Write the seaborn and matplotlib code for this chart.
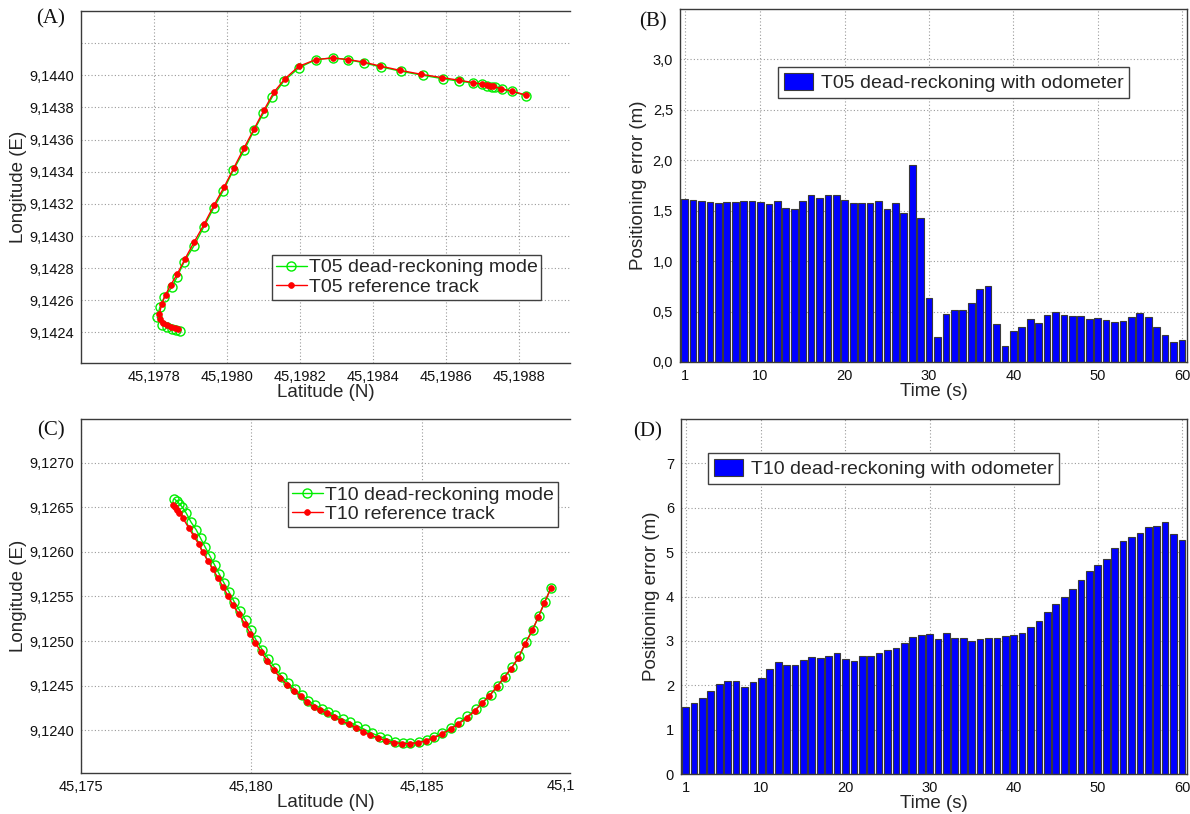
import numpy as np
import pandas as pd
import matplotlib
matplotlib.use("Agg")
import matplotlib.pyplot as plt
from matplotlib.ticker import FuncFormatter, FixedLocator
import seaborn as sns

# ---------------- data ----------------
# Panel A: T05 tracks (latitude N, longitude E)
t05_dr_lat = [45.197871, 45.197860, 45.197849, 45.197835, 45.197821, 45.197809, 45.197816,
              45.197828, 45.197849, 45.197864, 45.197882, 45.197910, 45.197937, 45.197964,
              45.197990, 45.198017, 45.198047, 45.198074, 45.198100, 45.198124, 45.198156,
              45.198198, 45.198244, 45.198290, 45.198331, 45.198375, 45.198422, 45.198477,
              45.198536, 45.198591, 45.198637, 45.198675, 45.198698, 45.198713, 45.198725,
              45.198734, 45.198753, 45.198780, 45.198819]
t05_dr_lon = [9.142407, 9.142415, 9.142422, 9.142432, 9.142449, 9.142494, 9.142556,
              9.142619, 9.142681, 9.142748, 9.142837, 9.142941, 9.143059, 9.143176,
              9.143283, 9.143408, 9.143533, 9.143657, 9.143765, 9.143865, 9.143965,
              9.144048, 9.144098, 9.144108, 9.144098, 9.144077, 9.144052, 9.144025,
              9.144000, 9.143979, 9.143963, 9.143952, 9.143944, 9.143936, 9.143930,
              9.143925, 9.143913, 9.143900, 9.143874]
t05_ref_lat = [45.197867, 45.197858, 45.197846, 45.197835, 45.197824, 45.197816, 45.197815,
               45.197821, 45.197832, 45.197846, 45.197864, 45.197885, 45.197910, 45.197938,
               45.197964, 45.197992, 45.198019, 45.198047, 45.198074, 45.198101, 45.198129,
               45.198159, 45.198197, 45.198244, 45.198290, 45.198331, 45.198373, 45.198419,
               45.198474, 45.198533, 45.198588, 45.198637, 45.198673, 45.198698, 45.198712,
               45.198721, 45.198730, 45.198751, 45.198780, 45.198819]
t05_ref_lon = [9.142422, 9.142428, 9.142436, 9.142449, 9.142457, 9.142484, 9.142515,
               9.142577, 9.142636, 9.142696, 9.142764, 9.142858, 9.142962, 9.143076,
               9.143190, 9.143304, 9.143425, 9.143549, 9.143664, 9.143782, 9.143896,
               9.143979, 9.144056, 9.144098, 9.144108, 9.144098, 9.144083, 9.144058,
               9.144031, 9.144006, 9.143986, 9.143969, 9.143955, 9.143946, 9.143940,
               9.143936, 9.143931, 9.143917, 9.143902, 9.143877]

# Panel B: T05 positioning error (m), t = 1..60 s
time_s = list(range(1, 61))
t05_err = [1.615, 1.61, 1.595, 1.585, 1.58, 1.59, 1.59, 1.595, 1.60, 1.585,
           1.57, 1.595, 1.53, 1.52, 1.595, 1.66, 1.625, 1.655, 1.655, 1.61,
           1.575, 1.575, 1.575, 1.60, 1.52, 1.58, 1.475, 1.955, 1.43, 0.635,
           0.25, 0.48, 0.52, 0.52, 0.585, 0.72, 0.755, 0.38, 0.155, 0.31,
           0.35, 0.43, 0.39, 0.465, 0.495, 0.465, 0.46, 0.46, 0.43, 0.44,
           0.415, 0.40, 0.41, 0.445, 0.49, 0.45, 0.345, 0.27, 0.20, 0.22]

# Panel C: T10 tracks
t10_dr_lat = [45.177745, 45.177814, 45.177892, 45.177971, 45.178088, 45.178235, 45.178382,
              45.178510, 45.178637, 45.178784, 45.178922, 45.179059, 45.179196, 45.179343,
              45.179500, 45.179667, 45.179833, 45.179990, 45.180147, 45.180324, 45.180500,
              45.180696, 45.180892, 45.181088, 45.181284, 45.181480, 45.181676, 45.181873,
              45.182069, 45.182265, 45.182471, 45.182686, 45.182902, 45.183118, 45.183333,
              45.183549, 45.183775, 45.184000, 45.184225, 45.184451, 45.184676, 45.184922,
              45.185147, 45.185373, 45.185608, 45.185853, 45.186108, 45.186343, 45.186598,
              45.186814, 45.187029, 45.187235, 45.187441, 45.187657, 45.187873, 45.188069,
              45.188265, 45.188441, 45.188618, 45.188804]
t10_dr_lon = [9.126594, 9.126568, 9.126538, 9.126504, 9.126436, 9.126331, 9.126248,
              9.126154, 9.126060, 9.125955, 9.125854, 9.125752, 9.125654, 9.125553,
              9.125440, 9.125338, 9.125233, 9.125120, 9.125008, 9.124902, 9.124801,
              9.124699, 9.124602, 9.124527, 9.124459, 9.124391, 9.124331, 9.124282,
              9.124241, 9.124203, 9.124166, 9.124124, 9.124087, 9.124049, 9.124008,
              9.123966, 9.123929, 9.123899, 9.123873, 9.123857, 9.123854, 9.123869,
              9.123891, 9.123925, 9.123966, 9.124023, 9.124087, 9.124154, 9.124237,
              9.124312, 9.124399, 9.124500, 9.124602, 9.124707, 9.124827, 9.124989,
              9.125128, 9.125278, 9.125436, 9.125598]
t10_ref_lat = [45.177716, 45.177755, 45.177814, 45.177892, 45.177990, 45.178167, 45.178314,
               45.178451, 45.178578, 45.178725, 45.178873, 45.179020, 45.179167, 45.179314,
               45.179461, 45.179637, 45.179804, 45.179971, 45.180118, 45.180294, 45.180471,
               45.180657, 45.180853, 45.181049, 45.181255, 45.181451, 45.181637, 45.181833,
               45.182029, 45.182225, 45.182431, 45.182647, 45.182863, 45.183069, 45.183284,
               45.183500, 45.183735, 45.183971, 45.184196, 45.184431, 45.184657, 45.184902,
               45.185127, 45.185343, 45.185588, 45.185853, 45.186078, 45.186324, 45.186569,
               45.186765, 45.186990, 45.187206, 45.187422, 45.187628, 45.187843, 45.188039,
               45.188255, 45.188431, 45.188608, 45.188794]
t10_ref_lon = [9.126530, 9.126504, 9.126474, 9.126436, 9.126380, 9.126267, 9.126173,
               9.126090, 9.125993, 9.125902, 9.125805, 9.125711, 9.125609, 9.125508,
               9.125402, 9.125301, 9.125196, 9.125083, 9.124978, 9.124876, 9.124775,
               9.124677, 9.124587, 9.124511, 9.124444, 9.124380, 9.124312, 9.124263,
               9.124226, 9.124188, 9.124151, 9.124106, 9.124068, 9.124030, 9.123985,
               9.123948, 9.123910, 9.123880, 9.123861, 9.123850, 9.123850, 9.123861,
               9.123880, 9.123910, 9.123955, 9.124012, 9.124068, 9.124136, 9.124218,
               9.124301, 9.124387, 9.124481, 9.124587, 9.124688, 9.124812, 9.124970,
               9.125120, 9.125271, 9.125429, 9.125590]

# Panel D: T10 positioning error (m)
t10_err = [1.52, 1.59, 1.72, 1.86, 2.02, 2.10, 2.085, 1.96, 2.07, 2.17,
           2.36, 2.52, 2.45, 2.45, 2.58, 2.63, 2.62, 2.65, 2.73, 2.59,
           2.54, 2.66, 2.66, 2.72, 2.80, 2.85, 2.96, 3.09, 3.13, 3.15,
           3.04, 3.18, 3.07, 3.07, 3.00, 3.04, 3.06, 3.07, 3.10, 3.13,
           3.18, 3.31, 3.45, 3.65, 3.82, 3.99, 4.18, 4.38, 4.57, 4.70,
           4.84, 5.10, 5.25, 5.33, 5.42, 5.57, 5.58, 5.68, 5.41, 5.28]

# tick definitions
a_xticks = [45.1978, 45.1980, 45.1982, 45.1984, 45.1986, 45.1988]
a_yticks = [9.1424, 9.1426, 9.1428, 9.1430, 9.1432, 9.1434, 9.1436, 9.1438, 9.1440, 9.1442]
b_yticks = [0.0, 0.5, 1.0, 1.5, 2.0, 2.5, 3.0]
c_xticks = [45.175, 45.180, 45.185]
c_yticks = [9.1240, 9.1245, 9.1250, 9.1255, 9.1260, 9.1265, 9.1270]
d_yticks = [0, 1, 2, 3, 4, 5, 6, 7]
time_ticks = [1, 10, 20, 30, 40, 50, 60]

# ---------------- style ----------------
sns.set_theme(style="white")
plt.rcParams['font.family'] = ['Liberation Sans', 'DejaVu Sans']
plt.rcParams['axes.edgecolor'] = '#3a3a3a'
plt.rcParams['axes.linewidth'] = 1.0

W, H = 1190, 814
fig = plt.figure(figsize=(W / 100, H / 100), dpi=100)


def px_axes(l, t, r, b):
    return fig.add_axes([l / W, 1 - b / H, (r - l) / W, (b - t) / H])


def comma_fmt(dec, hide=None):
    def f(v, p):
        if hide is not None and any(abs(v - h) < 1e-9 for h in hide):
            return ""
        return f"{v:.{dec}f}".replace('.', ',')
    return FuncFormatter(f)


TICK = 10.5


def style_axes(ax):
    ax.set_axisbelow(True)
    ax.grid(True, linestyle=(0, (1, 2)), color='#9a9a9a', linewidth=0.8)
    ax.tick_params(direction='in', length=4, width=0.8, colors='#3a3a3a',
                   labelsize=TICK, labelcolor='#111111', pad=5)
    for s in ax.spines.values():
        s.set_color('#3a3a3a')


LBL = 13.5
LEG = 14

# ---------------- Panel A ----------------
axA = px_axes(81, 11, 570, 363)
dfA1 = pd.DataFrame({'lat': t05_dr_lat, 'lon': t05_dr_lon})
dfA2 = pd.DataFrame({'lat': t05_ref_lat, 'lon': t05_ref_lon})
sns.lineplot(data=dfA1, x='lat', y='lon', sort=False, estimator=None, ax=axA,
             color='#00ee00', linewidth=1.0, marker='o', markersize=6.5,
             markerfacecolor='none', markeredgecolor='#00ee00', markeredgewidth=1.0,
             label='T05 dead-reckoning mode')
sns.lineplot(data=dfA2, x='lat', y='lon', sort=False, estimator=None, ax=axA,
             color='#ff0000', linewidth=1.0, marker='o', markersize=4.2,
             markerfacecolor='#ff0000', markeredgecolor='#ff0000', markeredgewidth=0.5,
             label='T05 reference track')
axA.set_xlim(45.1976, 45.19894)
axA.set_ylim(9.14221, 9.14440)
axA.xaxis.set_major_locator(FixedLocator(a_xticks))
axA.yaxis.set_major_locator(FixedLocator(a_yticks))
axA.xaxis.set_major_formatter(comma_fmt(4))
axA.yaxis.set_major_formatter(comma_fmt(4, hide=[9.1442]))
style_axes(axA)
axA.spines['right'].set_visible(False)
axA.set_xlabel('Latitude (N)', fontsize=LBL, labelpad=0)
axA.set_ylabel('Longitude (E)', fontsize=LBL, labelpad=2)
axA.legend(loc='upper left', bbox_to_anchor=(0.39, 0.307), borderaxespad=0,
           fontsize=LEG, frameon=True, fancybox=False, edgecolor='#404040',
           framealpha=1, handlelength=1.6, handletextpad=0.1, borderpad=0.2,
           labelspacing=0.1)

# ---------------- Panel B ----------------
axB = px_axes(680, 9, 1187, 362)
dfB = pd.DataFrame({'t': time_s, 'err': t05_err})
sns.barplot(data=dfB, x='t', y='err', native_scale=True, ax=axB, color='#0000ff',
            saturation=1, edgecolor='#3a3a3a', linewidth=0.8, width=0.8,
            errorbar=None, label='T05 dead-reckoning with odometer')
axB.set_xlim(0.45, 60.6)
axB.set_ylim(0, 3.5)
axB.xaxis.set_major_locator(FixedLocator(time_ticks))
axB.yaxis.set_major_locator(FixedLocator(b_yticks))
axB.xaxis.set_major_formatter(FuncFormatter(lambda v, p: f"{int(round(v))}"))
axB.yaxis.set_major_formatter(comma_fmt(1))
style_axes(axB)
axB.set_xlabel('Time (s)', fontsize=LBL, labelpad=0)
axB.set_ylabel('Positioning error (m)', fontsize=LBL, labelpad=4)
axB.legend(loc='upper left', bbox_to_anchor=(0.193, 0.836), borderaxespad=0,
           fontsize=LEG, frameon=True, fancybox=False, edgecolor='#404040',
           framealpha=1, handlelength=1.5, handleheight=1.0, handletextpad=0.4,
           borderpad=0.3)

# ---------------- Panel C ----------------
axC = px_axes(81, 419, 570, 773)
dfC1 = pd.DataFrame({'lat': t10_dr_lat, 'lon': t10_dr_lon})
dfC2 = pd.DataFrame({'lat': t10_ref_lat, 'lon': t10_ref_lon})
sns.lineplot(data=dfC1, x='lat', y='lon', sort=False, estimator=None, ax=axC,
             color='#00ee00', linewidth=1.0, marker='o', markersize=6.5,
             markerfacecolor='none', markeredgecolor='#00ee00', markeredgewidth=1.0,
             label='T10 dead-reckoning mode')
sns.lineplot(data=dfC2, x='lat', y='lon', sort=False, estimator=None, ax=axC,
             color='#ff0000', linewidth=1.0, marker='o', markersize=4.2,
             markerfacecolor='#ff0000', markeredgecolor='#ff0000', markeredgewidth=0.5,
             label='T10 reference track')
axC.set_xlim(45.175, 45.18936)
axC.set_ylim(9.12352, 9.12749)
axC.xaxis.set_major_locator(FixedLocator(c_xticks))
axC.yaxis.set_major_locator(FixedLocator(c_yticks))
axC.xaxis.set_major_formatter(comma_fmt(3))
axC.yaxis.set_major_formatter(comma_fmt(4))
style_axes(axC)
axC.spines['right'].set_visible(False)
axC.set_xlabel('Latitude (N)', fontsize=LBL, labelpad=0)
axC.set_ylabel('Longitude (E)', fontsize=LBL, labelpad=2)
axC.legend(loc='upper left', bbox_to_anchor=(0.423, 0.822), borderaxespad=0,
           fontsize=LEG, frameon=True, fancybox=False, edgecolor='#404040',
           framealpha=1, handlelength=1.6, handletextpad=0.1, borderpad=0.2,
           labelspacing=0.1)
# truncated tick label at the cropped right edge of panel C
fig.text(547 / W, 1 - 786 / H, '45,1', ha='left', va='center', fontsize=TICK,
         color='#111111')

# ---------------- Panel D ----------------
axD = px_axes(681, 419, 1187, 774)
dfD = pd.DataFrame({'t': time_s, 'err': t10_err})
sns.barplot(data=dfD, x='t', y='err', native_scale=True, ax=axD, color='#0000ff',
            saturation=1, edgecolor='#3a3a3a', linewidth=0.8, width=0.8,
            errorbar=None, label='T10 dead-reckoning with odometer')
axD.set_xlim(0.45, 60.6)
axD.set_ylim(0, 8)
axD.xaxis.set_major_locator(FixedLocator(time_ticks))
axD.yaxis.set_major_locator(FixedLocator(d_yticks))
axD.xaxis.set_major_formatter(FuncFormatter(lambda v, p: f"{int(round(v))}"))
axD.yaxis.set_major_formatter(FuncFormatter(lambda v, p: f"{int(round(v))}"))
style_axes(axD)
axD.set_xlabel('Time (s)', fontsize=LBL, labelpad=0)
axD.set_ylabel('Positioning error (m)', fontsize=LBL, labelpad=4)
axD.legend(loc='upper left', bbox_to_anchor=(0.053, 0.904), borderaxespad=0,
           fontsize=LEG, frameon=True, fancybox=False, edgecolor='#404040',
           framealpha=1, handlelength=1.5, handleheight=1.0, handletextpad=0.4,
           borderpad=0.3)

# panel letters
for txt, x, y in [('(A)', 51, 19), ('(B)', 653, 22), ('(C)', 51, 431), ('(D)', 648, 432)]:
    fig.text(x / W, 1 - y / H, txt, ha='center', va='center', fontsize=15,
             family=['Liberation Serif', 'DejaVu Serif'], color='#111111')

fig.savefig('out.png', dpi=100, facecolor='white')
